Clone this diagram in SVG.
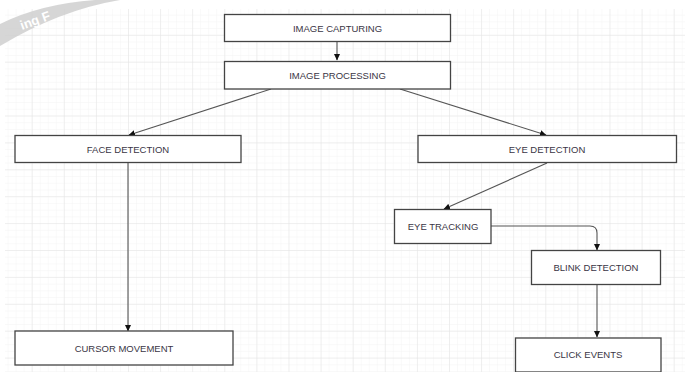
<svg xmlns="http://www.w3.org/2000/svg" width="685" height="372" viewBox="0 0 685 372">
<style>
.box{fill:#fff;stroke:#444;stroke-width:1.3}
.lbl{font-family:"Liberation Sans",Arial,sans-serif;font-size:9.5px;fill:#3a3545;text-anchor:middle;dominant-baseline:central}
.con{fill:none;stroke:#555;stroke-width:1.1}
</style>
<defs>
<pattern id="minor" width="8.025" height="6.725" patternUnits="userSpaceOnUse" x="-0.4" y="7.9">
<path d="M0 0H8.025M0 0V6.725" fill="none" stroke="#f4f4f4" stroke-width="1"/>
</pattern>
<pattern id="major" width="32.1" height="26.9" patternUnits="userSpaceOnUse" x="-0.4" y="7.9">
<path d="M0 0H32.1M0 0V26.9" fill="none" stroke="#e4e4e4" stroke-width="1"/>
</pattern>
<marker id="arr" markerWidth="7" markerHeight="7" refX="6" refY="3.5" orient="auto" markerUnits="userSpaceOnUse">
<path d="M0 0.5L6.5 3.5L0 6.5Z" fill="#111"/>
</marker>
</defs>
<rect width="685" height="372" fill="#fff"/>
<rect x="5" y="9" width="680" height="363" fill="url(#minor)"/>
<rect x="5" y="9" width="680" height="363" fill="url(#major)"/>
<g id="watermark">
<path d="M0 24 Q40 4 95 0 L120 0 Q60 10 0 46 Z" fill="#cfcfcf" opacity="0.85"/>
<text x="22" y="30" transform="rotate(-20 22 30)" font-family="Liberation Sans,Arial,sans-serif" font-size="13" font-weight="bold" fill="#fff">ing F</text>
</g>
<g id="connectors">
<path class="con" d="M337 41.5V60" marker-end="url(#arr)"/>
<path class="con" d="M271 89L129 135" marker-end="url(#arr)"/>
<path class="con" d="M400 89L546 135" marker-end="url(#arr)"/>
<path class="con" d="M547 163L444 209" marker-end="url(#arr)"/>
<path class="con" d="M491 226H590Q597 226 597 233V250" marker-end="url(#arr)"/>
<path class="con" d="M597 284.5V337" marker-end="url(#arr)"/>
<path class="con" d="M128 163V331" marker-end="url(#arr)"/>
</g>
<g id="image-capturing"><rect class="box" x="224.5" y="14.5" width="226" height="27"/><text class="lbl" x="337.5" y="28">IMAGE CAPTURING</text></g>
<g id="image-processing"><rect class="box" x="224.5" y="61.5" width="226" height="27.5"/><text class="lbl" x="337.5" y="75">IMAGE PROCESSING</text></g>
<g id="face-detection"><rect class="box" x="15" y="135.5" width="226" height="27"/><text class="lbl" x="128" y="149">FACE DETECTION</text></g>
<g id="eye-detection"><rect class="box" x="418" y="135.5" width="258.5" height="27"/><text class="lbl" x="547" y="149">EYE DETECTION</text></g>
<g id="eye-tracking"><rect class="box" x="394.5" y="209.5" width="96.5" height="34"/><text class="lbl" x="443" y="226">EYE TRACKING</text></g>
<g id="blink-detection"><rect class="box" x="531.5" y="250.5" width="129" height="34"/><text class="lbl" x="596" y="267.5">BLINK DETECTION</text></g>
<g id="cursor-movement"><rect class="box" x="15" y="331" width="218" height="34"/><text class="lbl" x="124" y="348">CURSOR MOVEMENT</text></g>
<g id="click-events"><rect class="box" x="515.5" y="338" width="145.5" height="34"/><text class="lbl" x="588" y="354.5">CLICK EVENTS</text></g>
</svg>
